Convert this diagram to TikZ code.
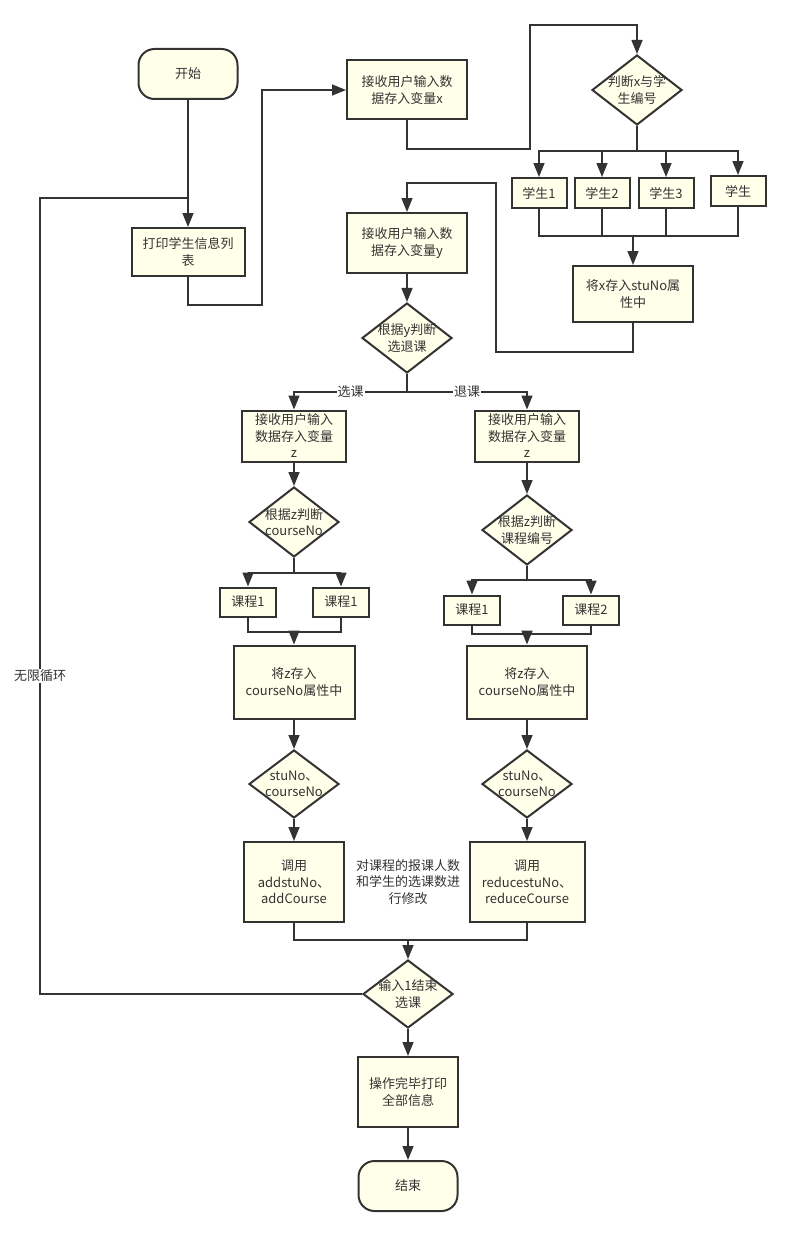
\documentclass[tikz,border=0pt]{standalone}
\usepackage{fontspec}
\setmainfont{Noto Sans CJK SC}
\usetikzlibrary{positioning,arrows.meta,shapes.geometric}
\definecolor{fLine}{RGB}{51,51,51}
\definecolor{fFill}{RGB}{255,255,234}
\tikzset{
  proc/.style={rectangle, draw=fLine, fill=fFill, line width=2pt,
               align=center, text=fLine, inner sep=0pt,
               font=\fontsize{13}{16.5}\selectfont},
  term/.style={proc, rounded corners=16pt, minimum width=99pt, minimum height=50pt},
  stu/.style={proc, minimum width=55pt, minimum height=30pt},
  crs/.style={proc, minimum width=56pt, minimum height=29pt},
  decision/.style={diamond, draw=fLine, fill=fFill, line width=2pt,
                   align=center, text=fLine, inner sep=-14pt,
                   minimum width=90pt, minimum height=70pt,
                   font=\fontsize{13}{16.5}\selectfont},
  flow/.style={-{Triangle[length=14pt,width=11pt]}, draw=fLine, line width=1.5pt},
  link/.style={draw=fLine, line width=1.5pt},
  loopline/.style={draw=fLine, line width=1.2pt},
  lbl/.style={font=\fontsize{13}{16.5}\selectfont, fill=white, text=fLine, inner sep=1pt},
}
\begin{document}
\begin{tikzpicture}[x=1pt,y=-1pt]
  \useasboundingbox (0,0) rectangle (790,1236);

  %====================== STUDENT PART ======================
  \node[term] (start) at (188,74) {开始};
  \node[proc, minimum width=113pt, minimum height=48pt] (print) at (188,252) {打印学生信息列\\表};
  \node[proc, minimum width=120pt, minimum height=59pt] (recvx) at (407,90) {接收用户输入数\\据存入变量x};
  \node[decision] (judge) at (637,90) {判断x与学\\生编号};

  \node[stu] (s1) at (539,193) {学生1};
  \node[stu] (s2) at (602,193) {学生2};
  \node[stu] (s3) at (666,193) {学生3};
  \node[stu] (s4) at (738,191) {学生};

  \node[proc, minimum width=120pt, minimum height=56pt] (store) at (633,294) {将x存入stuNo属\\性中};
  \node[proc, minimum width=120pt, minimum height=60pt] (recvy) at (407,243) {接收用户输入数\\据存入变量y};
  \node[decision] (choice) at (407,338) {根据y判断\\选退课};

  %====================== COURSE PART ======================
  \node[proc, minimum width=104pt, minimum height=51pt] (zsel) at (294,436) {接收用户输入\\数据存入变量\\z};
  \node[proc, minimum width=104pt, minimum height=51pt] (zdrop) at (527,436) {接收用户输入\\数据存入变量\\z};
  \node[decision] (csel) at (294,522) {根据z判断\\courseNo};
  \node[decision] (cdrop) at (527,530) {根据z判断\\课程编号};

  \node[crs] (c1) at (248,602) {课程1};
  \node[crs] (c2) at (341,602) {课程1};
  \node[crs] (c3) at (472,610) {课程1};
  \node[crs] (c4) at (591,610) {课程2};

  \node[proc, minimum width=121pt, minimum height=73pt] (ssel) at (294,682) {将z存入\\courseNo属性中};
  \node[proc, minimum width=120pt, minimum height=73pt] (sdrop) at (527,682) {将z存入\\courseNo属性中};
  \node[decision, minimum height=68pt] (psel) at (294,784) {stuNo、\\courseNo};
  \node[decision, minimum height=68pt] (pdrop) at (527,784) {stuNo、\\courseNo};
  \node[proc, minimum width=100pt, minimum height=80pt] (callsel) at (294,882) {调用\\addstuNo、\\addCourse};
  \node[proc, minimum width=115pt, minimum height=80pt] (calldrop) at (527,882) {调用\\reducestuNo、\\reduceCourse};
  \node[lbl, fill=none, align=center] (note) at (408,882) {对课程的报课人数\\和学生的选课数进\\行修改};

  %====================== END PART ======================
  \node[decision, minimum height=68pt] (quit) at (408,994) {输入1结束\\选课};
  \node[proc, minimum width=100pt, minimum height=70pt] (final) at (408,1092) {操作完毕打印\\全部信息};
  \node[term] (stop) at (408,1186) {结束};

  %====================== CONNECTORS ======================
  \coordinate (loopTop) at (40,198);
  \coordinate (pb) at (262,305);
  \coordinate (xa) at (530,149);
  \coordinate (xb) at (530,25);
  \coordinate (jb) at (637,151);
  \coordinate (sm) at (633,236);
  \coordinate (ya) at (496,352);
  \coordinate (yb) at (496,183);
  \coordinate (cb) at (407,392);
  \coordinate (csb) at (294,573);
  \coordinate (cdb) at (527,580);
  \coordinate (csm) at (294,632);
  \coordinate (cdm) at (527,634);
  \coordinate (qm) at (408,940);

  \draw[flow] (start) -- (print);
  \draw[loopline] (quit.west) -| node[lbl,pos=0.7]{无限循环} (loopTop) -- (loopTop -| print);
  \draw[flow] (print.south) |- (pb) |- (recvx.west);
  \draw[flow] (recvx.south) |- (xa) -- (xb) -| (judge.north);

  \draw[link] (judge.south) -- (jb);
  \foreach \s in {s1,s2,s3,s4} \draw[flow] (jb) -| (\s.north);
  \foreach \s in {s1,s2,s3,s4} \draw[link] (\s.south) |- (sm);
  \draw[flow] (sm) -- (store);
  \draw[flow] (store.south) |- (ya) -- (yb) -| (recvy.north);

  \draw[flow] (recvy) -- (choice);
  \draw[link] (choice.south) -- (cb);
  \draw[flow] (cb) -| node[lbl,pos=0.25]{选课} (zsel.north);
  \draw[flow] (cb) -| node[lbl,pos=0.25]{退课} (zdrop.north);

  \draw[flow] (zsel) -- (csel);
  \draw[flow] (zdrop) -- (cdrop);
  \draw[link] (csel.south) -- (csb);
  \draw[link] (cdrop.south) -- (cdb);
  \foreach \c in {c1,c2} \draw[flow] (csb) -| (\c.north);
  \foreach \c in {c3,c4} \draw[flow] (cdb) -| (\c.north);
  \foreach \c in {c1,c2} \draw[link] (\c.south) |- (csm);
  \foreach \c in {c3,c4} \draw[link] (\c.south) |- (cdm);
  \draw[flow] (csm) -- (ssel);
  \draw[flow] (cdm) -- (sdrop);

  \draw[flow] (ssel) -- (psel);
  \draw[flow] (sdrop) -- (pdrop);
  \draw[flow] (psel) -- (callsel);
  \draw[flow] (pdrop) -- (calldrop);
  \draw[link] (callsel.south) |- (qm);
  \draw[link] (calldrop.south) |- (qm);
  \draw[flow] (qm) -- (quit);
  \draw[flow] (quit) -- (final);
  \draw[flow] (final) -- (stop);

\end{tikzpicture}
\end{document}
